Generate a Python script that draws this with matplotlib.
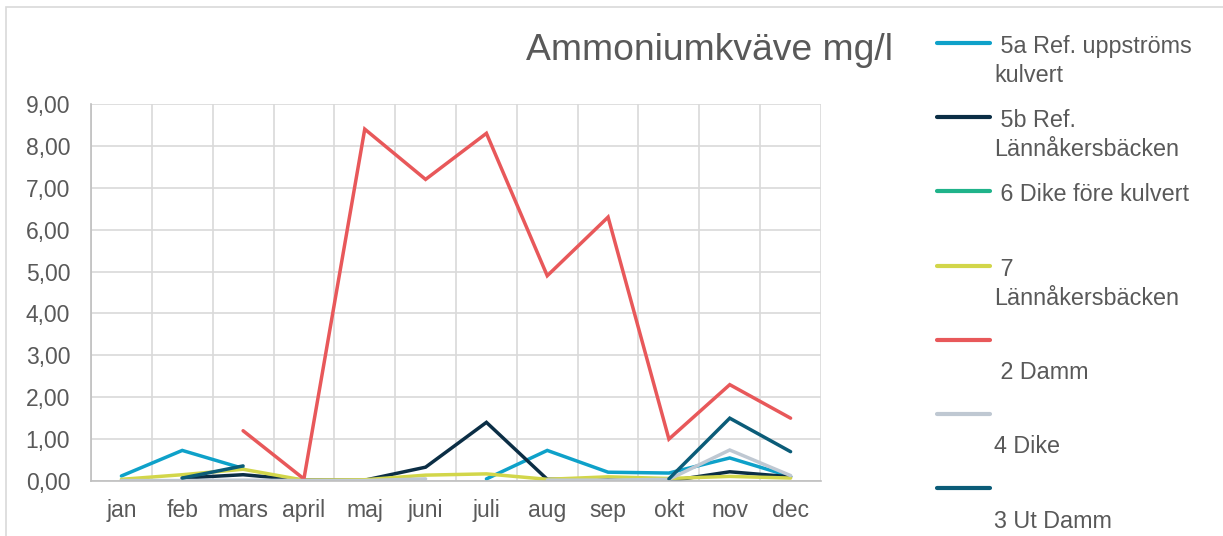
import numpy as np
import matplotlib
matplotlib.use("Agg")
import matplotlib.pyplot as plt
from matplotlib.lines import Line2D
from matplotlib.patches import Rectangle

plt.rcParams['font.family'] = ['Liberation Sans', 'DejaVu Sans']

nan = np.nan
months = ['jan', 'feb', 'mars', 'april', 'maj', 'juni', 'juli', 'aug', 'sep', 'okt', 'nov', 'dec']

# values (mg/l), nan = no sample
ref_5a = [0.12, 0.73, 0.30, nan, nan, nan, 0.05, 0.73, 0.21, 0.19, 0.55, 0.11]
ref_5b = [nan, 0.07, 0.15, 0.02, 0.02, 0.33, 1.40, 0.04, 0.03, 0.00, 0.22, 0.10]
dike_6 = [nan] * 12
lann_7 = [0.04, 0.15, 0.28, 0.02, 0.03, 0.14, 0.17, 0.04, 0.10, 0.06, 0.11, 0.07]
damm_2 = [nan, nan, 1.20, 0.05, 8.40, 7.20, 8.30, 4.90, 6.30, 1.00, 2.30, 1.50]
dike_4 = [0.01, 0.01, 0.02, 0.01, 0.01, 0.05, nan, 0.02, 0.02, 0.04, 0.74, 0.13]
utdamm_3 = [nan, 0.07, 0.36, nan, nan, nan, nan, nan, nan, 0.05, 1.50, 0.70]

labels = [' 5a Ref. uppströms\nkulvert', ' 5b Ref.\nLännåkersbäcken', ' 6 Dike före kulvert',
          ' 7\nLännåkersbäcken', '\n 2 Damm', '\n4 Dike', '\n3 Ut Damm']
series = [ref_5a, ref_5b, dike_6, lann_7, damm_2, dike_4, utdamm_3]
colors = ['#0ea1c9', '#0b2e45', '#20b38a', '#d2d64a', '#e8585a', '#bfc8d2', '#0b5c78']

W, H = 1223, 536
fig = plt.figure(figsize=(W / 100, H / 100), dpi=100)
txt = '#595959'

# chart border
fig.patches.append(Rectangle((6 / W, -0.1), 1.2, 1 - 7 / H + 0.1, transform=fig.transFigure,
                             fill=False, edgecolor='#d9d9d9', lw=1.2))

ax = fig.add_axes([91 / W, (H - 481) / H, (821 - 91) / W, (481 - 104) / H])
x = np.arange(len(months))
for vals, c in zip(series, colors):
    ax.plot(x, vals, color=c, lw=2.5, solid_capstyle='round', solid_joinstyle='miter')

ax.set_xlim(-0.5, 11.5)
ax.set_ylim(0, 9)
ax.set_yticks(np.arange(0, 10))
ax.set_yticklabels([f'{v:.2f}'.replace('.', ',') for v in range(10)])
ax.set_xticks(x)
ax.set_xticklabels(months)
ax.set_xticks(np.arange(-0.5, 12, 1), minor=True)
ax.grid(True, which='major', axis='y', color='#d9d9d9', lw=1.2)
ax.grid(True, which='minor', axis='x', color='#d9d9d9', lw=1.2)
ax.set_axisbelow(True)
ax.tick_params(which='both', length=0, labelsize=16.5, colors=txt)
ax.tick_params(axis='x', pad=13)
ax.tick_params(axis='y', pad=15)
for s in ['top', 'right']:
    ax.spines[s].set_visible(False)
for s in ['left', 'bottom']:
    ax.spines[s].set_color('#bfbfbf')
    ax.spines[s].set_linewidth(1.2)

fig.text(893 / W, 1 - 51 / H, 'Ammoniumkväve mg/l', ha='right', va='center',
         fontsize=26.8, color=txt)

# legend drawn by hand to mimic the spreadsheet layout
for i, (lab, c) in enumerate(zip(labels, colors)):
    ly = 43 + i * 74.2
    fig.add_artist(Line2D([937 / W, 990 / W], [1 - ly / H, 1 - ly / H], color=c, lw=3,
                          solid_capstyle='round', transform=fig.transFigure))
    fig.text(994 / W, 1 - (ly - 8) / H, lab, ha='left', va='top', fontsize=16.8,
             color=txt, linespacing=1.35)

fig.savefig('out.png', dpi=100)
